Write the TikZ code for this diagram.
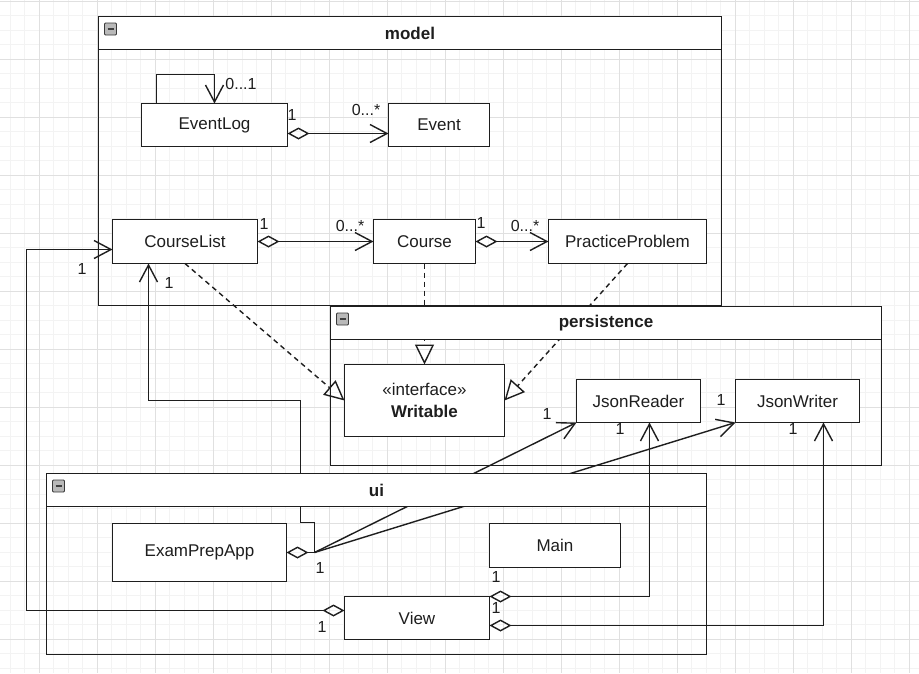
\documentclass[tikz,border=0pt]{standalone}
\usepackage{fontspec}
\setmainfont{Liberation Sans}
\usetikzlibrary{arrows.meta,calc}
\definecolor{linec}{HTML}{1E1E1E}
\definecolor{gmaj}{HTML}{E0E0E0}
\definecolor{gmin}{HTML}{F3F3F3}
\newcommand\nodefont{\fontsize{17}{21.5}\selectfont}
\newcommand\lblfont{\fontsize{16}{19}\selectfont}
\tikzset{
  cls/.style={draw=linec, line width=1.4pt, fill=white, font=\nodefont, inner sep=0pt, outer sep=0pt, anchor=north west, text=linec},
  pkgbody/.style={draw=linec, line width=1.6pt, anchor=north west, inner sep=0pt, outer sep=0pt},
  pkghead/.style={draw=linec, line width=1.6pt, fill=white, anchor=north west, inner sep=0pt, outer sep=0pt, font=\nodefont\bfseries, text=linec},
  lbl/.style={font=\lblfont, inner sep=0pt, text=linec},
  edgeline/.style={draw=linec, line width=1.4pt},
  assoc/.style={edgeline, -{Straight Barb[length=17pt, width=18pt]}},
  aggr/.style={edgeline, {Diamond[open, length=22pt, width=12pt]}-{Straight Barb[length=17pt, width=18pt]}},
  real/.style={edgeline, dash pattern=on 5pt off 4pt, -{Triangle[open, length=20pt, width=19pt]}},
  gminor/.style={draw=gmin, line width=0.8pt},
  gmajor/.style={draw=gmaj, line width=1pt},
  iconbox/.style={draw=gray!45!black, fill=gray!55, line width=0.8pt, rounded corners=1pt},
  iconbar/.style={draw=black!75, line width=1.4pt},
}
\begin{document}
\begin{tikzpicture}[x=1pt, y=-1pt]
\useasboundingbox (0,0) rectangle (919,673);
\fill[white] (0,0) rectangle (919,673);
% grid
\begin{scope}
\clip (0,0) rectangle (919,673);
\foreach \i in {0,...,64} { \draw[gminor] ({-19+14.5*\i},0) -- ++(0,673); }
\foreach \j in {0,...,47} { \draw[gminor] (0,{1.3+14.5*\j}) -- ++(919,0); }
\foreach \i in {0,...,16} { \draw[gmajor] ({-19+58*\i},0) -- ++(0,673); }
\foreach \j in {0,...,12} { \draw[gmajor] (0,{1.3+58*\j}) -- ++(919,0); }
\end{scope}

% ---------- model package ----------
\node[pkgbody, minimum width=623pt, minimum height=289pt] (model) at (98.5,16.5) {};
\node[pkghead, minimum width=623pt, minimum height=33pt] (modelhead) at (98.5,16.5) {model};
\draw[iconbox] ($(modelhead.north west)+(6,6.5)$) rectangle ++(12,12);
\draw[iconbar] ($(modelhead.north west)+(9,12.5)$) -- ++(6,0);

\node[cls, minimum width=146pt, minimum height=43pt] (eventlog) at (141.5,103.5) {EventLog};
\node[cls, minimum width=101pt, minimum height=43pt] (event) at (388.5,103.5) {Event};
\node[cls, minimum width=145pt, minimum height=44pt] (courselist) at (112.5,219.5) {CourseList};
\node[cls, minimum width=102pt, minimum height=44pt] (course) at (373.5,219.5) {Course};
\node[cls, minimum width=158pt, minimum height=44pt] (pp) at (548.5,219.5) {PracticeProblem};

\draw[assoc] ([xshift=15pt]eventlog.north west) -- ++(0,-29) -| (eventlog.north);
\draw[aggr] ([yshift=-8.5pt]eventlog.east) -- ([yshift=-8.5pt]event.west);
\draw[aggr] (courselist.east) -- (course.west);
\draw[aggr] (course.east) -- (pp.west);

\node[lbl] (l01) at (241,84) {0...1};
\node[lbl] (lel) at (292,115) {1};
\node[lbl] (lev) at (366,110) {0...*};
\node[lbl] (lcl1) at (264,224) {1};
\node[lbl] (lco) at (350,226) {0...*};
\node[lbl] (lco1) at (481,223) {1};
\node[lbl] (lpp) at (525,226) {0...*};

% interface and realizations (the persistence header hides their middle)
\node[cls, minimum width=160pt, minimum height=72pt, align=center] (writable) at (344.5,364.5) {«interface»\\\textbf{Writable}};
\draw[real] (course.south) -- (writable.north);
\draw[real] (pp.south) -- (writable.east);
\draw[real] (courselist.south) -- (writable.west);

% ---------- persistence package ----------
\node[pkgbody, minimum width=551pt, minimum height=159pt] (persistence) at (330.5,306.5) {};
\node[pkghead, minimum width=551pt, minimum height=33pt] (perhead) at (330.5,306.5) {persistence};
\draw[iconbox] ($(perhead.north west)+(6,6.5)$) rectangle ++(12,12);
\draw[iconbar] ($(perhead.north west)+(9,12.5)$) -- ++(6,0);

\node[cls, minimum width=124pt, minimum height=43pt] (jr) at (576.5,379.5) {JsonReader};
\node[cls, minimum width=124pt, minimum height=43pt] (jw) at (735.5,379.5) {JsonWriter};

% ---------- ui package ----------
\node[cls, minimum width=174pt, minimum height=58pt] (epa) at (112.5,523.5) {ExamPrepApp};
\coordinate (epaj) at ($(epa.east)+(28,0)$);
\draw[aggr] (epa.east) -- (epaj) -- ++(0,-30) -- ++(-14,0) -- ++(0,-122) -| ([xshift=36pt]courselist.south west);
\draw[assoc] (epaj) -- (jr.south west);
\draw[assoc] (epaj) -- (jw.south west);

\node[pkgbody, minimum width=660pt, minimum height=181pt] (ui) at (46.5,473.5) {};
\node[pkghead, minimum width=660pt, minimum height=33pt] (uihead) at (46.5,473.5) {ui};
\draw[iconbox] ($(uihead.north west)+(6,6.5)$) rectangle ++(12,12);
\draw[iconbar] ($(uihead.north west)+(9,12.5)$) -- ++(6,0);

\node[cls, minimum width=131pt, minimum height=44pt] (main) at (489.5,523.5) {Main};
\node[cls, minimum width=145pt, minimum height=43pt] (view) at (344.5,596.5) {View};

\draw[aggr] ([yshift=7.5pt]view.west) -- ++(-318,0) |- ([yshift=-8pt]courselist.west);
\draw[aggr] (view.north east) -| ([xshift=11pt]jr.south);
\draw[aggr] ([yshift=-7.5pt]view.east) -| ([xshift=26pt]jw.south);

\node[lbl] (lcb) at (169,283) {1};
\node[lbl] (lcw) at (82,269) {1};
\node[lbl] (lepa) at (320,568) {1};
\node[lbl] (ljr) at (547,414) {1};
\node[lbl] (ljw) at (721,400) {1};
\node[lbl] (ljrb) at (620,429) {1};
\node[lbl] (ljwb) at (793,429) {1};
\node[lbl] (lv1) at (496,577) {1};
\node[lbl] (lv2) at (496,608) {1};
\node[lbl] (lvl) at (322,627) {1};
\end{tikzpicture}
\end{document}
